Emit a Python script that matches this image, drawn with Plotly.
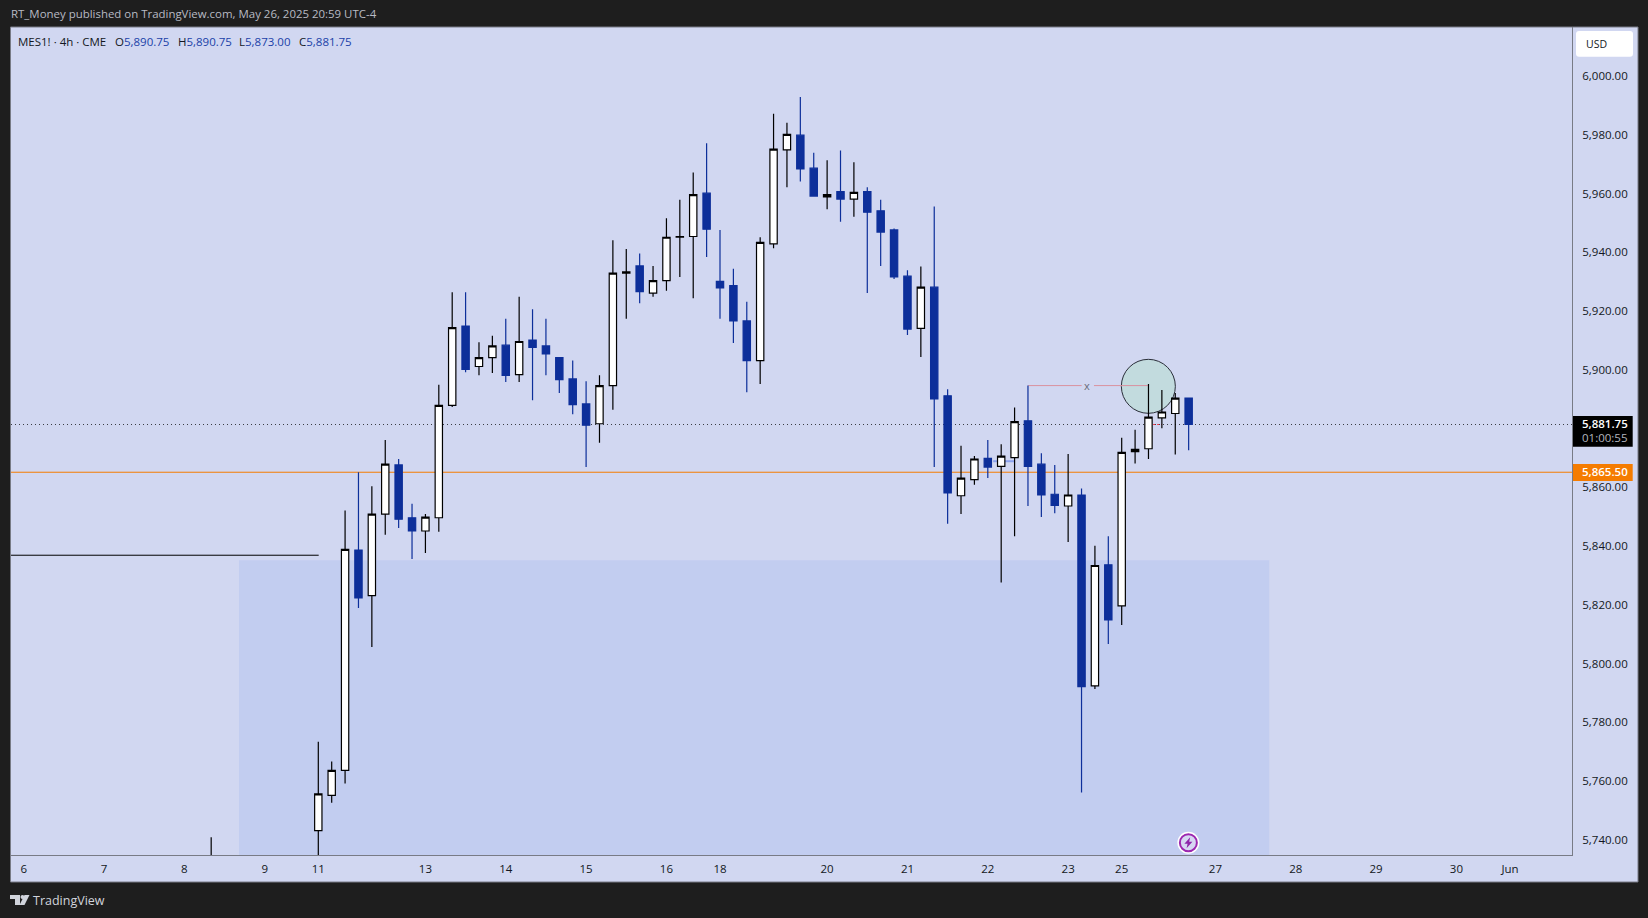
import plotly.graph_objects as go

# ---- data ----
bars = [-8] + list(range(0, 66))
opens = [5730, 5743.5, 5755.5, 5764, 5839, 5823.5, 5851.25, 5868, 5850, 5845.5, 5850, 5888.25, 5915.25, 5901.5, 5904.5, 5908.75, 5898.75, 5910.5, 5908.5, 5904.5, 5897.25, 5888.75, 5882, 5895, 5933.25, 5935.75, 5926.5, 5930.75, 5945.5, 5945.75, 5960.5, 5930.5, 5929, 5917, 5903.5, 5943.25, 5975.25, 5980.25, 5969, 5959.25, 5961, 5958.5, 5961, 5954.5, 5948, 5932.25, 5914.5, 5928.5, 5891.5, 5857.5, 5863, 5870.25, 5867.5, 5870.5, 5883, 5868.25, 5858, 5854, 5857.75, 5792.75, 5834, 5820, 5872.5, 5873.5, 5884, 5885.5, 5890.75]
highs = [5741.25, 5773.75, 5767, 5852.5, 5865.5, 5860.75, 5876.5, 5870, 5854.75, 5851.25, 5895.25, 5926.75, 5926.75, 5909.75, 5912, 5917.75, 5925.25, 5921, 5917.75, 5904.5, 5903.5, 5896.5, 5898.5, 5944.5, 5941.5, 5940, 5935.75, 5952, 5958.25, 5967.5, 5977.5, 5948, 5934.75, 5923.5, 5945.5, 5987.5, 5984.5, 5993.25, 5974.25, 5971.75, 5975, 5971, 5962.5, 5958.25, 5948.5, 5934.25, 5935.5, 5956, 5893.75, 5874.5, 5871, 5876.5, 5875, 5887.5, 5895, 5872, 5868, 5871.75, 5860, 5840.5, 5843.75, 5877.25, 5880, 5895.5, 5893.5, 5892.5, 5890.75]
lows = [5725, 5733.5, 5753, 5759.5, 5819.25, 5806, 5844.25, 5846.5, 5836, 5838, 5845.25, 5887.75, 5899.5, 5898.5, 5899.25, 5896.25, 5896.25, 5890, 5898.5, 5892.5, 5885.25, 5867.25, 5875.5, 5886.75, 5917.75, 5923, 5925.25, 5927.25, 5932, 5924.75, 5938.75, 5917.75, 5909.5, 5892.75, 5895.5, 5941.75, 5962.5, 5964.5, 5959.25, 5955, 5950.75, 5952.5, 5926.5, 5935.75, 5931.25, 5912.25, 5904.75, 5867.25, 5848, 5851.25, 5861.25, 5863.5, 5828, 5843.75, 5854, 5850.25, 5851.5, 5841.75, 5756.5, 5791.75, 5807, 5813.5, 5868.5, 5870, 5880.5, 5871.5, 5873]
closes = [5732, 5756, 5764, 5839.25, 5822.75, 5851.25, 5868.25, 5849.5, 5845.5, 5850.25, 5888.25, 5914.75, 5900.5, 5904.5, 5908.5, 5898.5, 5910, 5908, 5905.75, 5897, 5888.5, 5881.5, 5895, 5933.25, 5933.75, 5927, 5930.75, 5945.5, 5945.75, 5960, 5948.25, 5928.25, 5917, 5903.5, 5943.75, 5975.5, 5980.5, 5968.75, 5959.5, 5960, 5958.5, 5960.75, 5954, 5947.25, 5932, 5914.25, 5928.5, 5890.5, 5858.5, 5863.5, 5870, 5867.25, 5871, 5882.75, 5867.5, 5857.75, 5854.25, 5857.75, 5792.5, 5833.75, 5815.25, 5872.25, 5873.25, 5884.25, 5886, 5890.75, 5881.75]

tick_bars = [-22, -16, -10, -4, 0, 8, 14, 20, 26, 30, 38, 44, 50, 56, 60, 67, 73, 79, 85, 89]
tick_days = ["6", "7", "8", "9", "11", "13", "14", "15", "16", "18", "20", "21", "22", "23", "25", "27", "28", "29", "30", "Jun"]
price_ticks = [5740, 5760, 5780, 5800, 5820, 5840, 5860, 5900, 5920, 5940, 5960, 5980, 6000]

last_price = 5881.75
level_price = 5865.50
old_level = 5837.25
zone_top = 5835.5
zone_bars = (-5.92, 71.02)
target_price = 5895
target_bars = (53.02, 57.01, 57.93, 61.96)
circle_bar, circle_price = 61.99, 5894.75
link_price, link_bars = 5869.25, (50.4, 52)
event_bar, event_price = 64.98, 5739.4

# ---- style ----
BG = "#d1d7f1"
ZONE = "#c2cdf0"
DARK = "#1e1e1e"
NAVY = "#0d2f9a"
FRAME = "#787b86"
INK = "#131722"
FONT = "Open Sans"
W, H = 1648, 918
L, R, T, B = 11, 1572, 27, 855


def px(x):
    return (x - L) / (R - L)


def py(y):
    return (B - y) / (B - T)


def rounded(x0, y0, x1, y1, r):
    a, b, c, d = px(x0), px(x1), py(y0), py(y1)
    rx, ry = r / (R - L), r / (B - T)
    return (f"M{a+rx},{c} L{b-rx},{c} Q{b},{c} {b},{c-ry} L{b},{d+ry} Q{b},{d} {b-rx},{d} "
            f"L{a+rx},{d} Q{a},{d} {a},{d+ry} L{a},{c-ry} Q{a},{c} {a+rx},{c} Z")


def poly(points):
    return "M" + " L".join(f"{px(x)},{py(y)}" for x, y in points) + " Z"


bar_px = 13.39
xrange_ = [(L - 318.3) / bar_px, (R - 318.3) / bar_px]
yrange_ = [5735.2, 6017.07]
px_per_point = (B - T) / (yrange_[1] - yrange_[0])
rx_circle = 27 / bar_px
ry_circle = 27 / px_per_point

ev_x = 318.3 + bar_px * event_bar
ev_y = B - (event_price - yrange_[0]) * px_per_point

shapes = [
    dict(type="rect", xref="paper", yref="paper", x0=px(10.5), x1=px(1638), y0=py(27), y1=py(882),
         fillcolor=BG, line=dict(color=FRAME, width=1), layer="below"),
    dict(type="rect", xref="x", yref="y", x0=zone_bars[0], x1=zone_bars[1], y0=yrange_[0], y1=zone_top,
         fillcolor=ZONE, line=dict(width=0), layer="below"),
    dict(type="line", xref="paper", yref="y", x0=0, x1=1, y0=level_price, y1=level_price,
         line=dict(color="#f57c00", width=1), layer="below"),
    dict(type="line", xref="paper", yref="y", x0=0, x1=1, y0=last_price, y1=last_price,
         line=dict(color="#3a3c44", width=1, dash="1px,3px"), layer="below"),
    dict(type="line", xref="paper", yref="y", x0=0, x1=px(318.7), y0=old_level, y1=old_level,
         line=dict(color="#000000", width=1), layer="below"),
    dict(type="circle", xref="x", yref="y", x0=circle_bar - rx_circle, x1=circle_bar + rx_circle,
         y0=circle_price - ry_circle, y1=circle_price + ry_circle,
         fillcolor="#c2dbde", line=dict(color="#2a2e39", width=1), layer="below"),
    dict(type="line", xref="x", yref="y", x0=target_bars[0], x1=target_bars[1], y0=target_price, y1=target_price,
         line=dict(color="#d9929f", width=1), layer="below"),
    dict(type="line", xref="x", yref="y", x0=target_bars[2], x1=target_bars[3], y0=target_price, y1=target_price,
         line=dict(color="#d9929f", width=1), layer="below"),
    dict(type="line", xref="x", yref="y", x0=link_bars[0], x1=link_bars[1], y0=link_price, y1=link_price,
         line=dict(color="#8ba2ee", width=2), layer="below"),
    dict(type="line", xref="x", yref="y", x0=62.35, x1=63, y0=last_price, y1=last_price,
         line=dict(color="#f23645", width=1, dash="2px,2px"), layer="below"),
    # price tags and currency box
    dict(type="rect", xref="paper", yref="paper", x0=px(1573), x1=px(1632.7), y0=py(416), y1=py(446.7),
         fillcolor="#000000", line=dict(width=0), layer="above"),
    dict(type="rect", xref="paper", yref="paper", x0=px(1573), x1=px(1632.7), y0=py(464), y1=py(481),
         fillcolor="#f57c00", line=dict(width=0), layer="above"),
    dict(type="path", xref="paper", yref="paper", path=rounded(1576, 31, 1633, 56.7, 3),
         fillcolor="#ffffff", line=dict(width=0), layer="above"),
    # logo
    dict(type="path", xref="paper", yref="paper",
         path=poly([(10, 895), (20, 895), (20, 905), (15, 905), (15, 899), (10, 899)]),
         fillcolor="#d1d4dc", line=dict(width=0), layer="above"),
    dict(type="path", xref="paper", yref="paper",
         path=poly([(24.5, 895), (29.5, 895), (24.5, 905), (19.5, 905)]),
         fillcolor="#d1d4dc", line=dict(width=0), layer="above"),
    dict(type="circle", xref="paper", yref="paper", x0=px(20.5), x1=px(24.5), y0=py(899), y1=py(895),
         fillcolor="#d1d4dc", line=dict(width=0), layer="above"),
    # lightning bolt of the event badge
    dict(type="path", xref="paper", yref="paper",
         path=poly([(ev_x + 1.8, ev_y - 5.5), (ev_x - 4, ev_y + 1), (ev_x - 0.8, ev_y + 1),
                    (ev_x - 1.8, ev_y + 5.5), (ev_x + 4, ev_y - 1), (ev_x + 0.8, ev_y - 1)]),
         fillcolor="#8e24aa", line=dict(width=0), layer="above"),
]

fig = go.Figure()
fig.add_trace(go.Candlestick(
    x=bars, open=opens, high=highs, low=lows, close=closes,
    increasing=dict(line=dict(color="#000000", width=1.2), fillcolor="#ffffff"),
    decreasing=dict(line=dict(color=NAVY, width=1.2), fillcolor=NAVY),
    whiskerwidth=0, showlegend=False, hoverinfo="skip",
))
fig.add_trace(go.Scatter(
    x=[event_bar], y=[event_price], mode="markers", showlegend=False, hoverinfo="skip",
    marker=dict(size=22, color="#ffffff", line=dict(width=0)),
))
fig.add_trace(go.Scatter(
    x=[event_bar], y=[event_price], mode="markers", showlegend=False, hoverinfo="skip",
    marker=dict(size=17, color="#d6d6f2", line=dict(color="#9c27b0", width=2)),
))


def text(x, y, s, color=INK, size=12, anchor="left", weight=None):
    return dict(xref="paper", yref="paper", x=px(x - 1.5 if anchor == "left" else x), y=py(y), text=s,
                showarrow=False, xanchor=anchor, yanchor="middle", align=anchor,
                font=dict(family=FONT, size=size, color=color, weight=weight))


legend_blue = "#1a3fa8"
annotations = [
    text(10, 14, "RT_Money published on TradingView.com, May 26, 2025 20:59 UTC-4", "#b8bbc4", 11.45),
    text(17, 41.5, "MES1! · 4h · CME", INK, 11.5),
    text(114, 41.5, f'O<span style="color:{legend_blue}">5,890.75</span>', INK, 11.5),
    text(177, 41.5, f'H<span style="color:{legend_blue}">5,890.75</span>', INK, 11.5),
    text(238, 41.5, f'L<span style="color:{legend_blue}">5,873.00</span>', INK, 11.5),
    text(298, 41.5, f'C<span style="color:{legend_blue}">5,881.75</span>', INK, 11.5),
    text(1585, 44.5, "USD", INK, 10.5),
    text(1581, 423.3, f"{last_price:,.2f}", "#ffffff", 11.5, weight=600),
    text(1581, 437.7, "01:00:55", "#b2b5be", 11.5),
    text(1581, 472, f"{level_price:,.2f}", "#ffffff", 11.5, weight=600),
    text(1086.7, 385, "x", "#6a6d78", 11, "center"),
    text(32.5, 900, "TradingView", "#d1d4dc", 12.5),
]

fig.update_layout(
    width=W, height=H, autosize=False,
    margin=dict(l=L, r=W - R, t=T, b=H - B, pad=0),
    paper_bgcolor=DARK, plot_bgcolor="rgba(0,0,0,0)",
    font=dict(family=FONT, size=11.5, color=INK),
    showlegend=False, hovermode=False, boxgap=0.22,
    shapes=shapes, annotations=annotations,
    xaxis=dict(range=xrange_, tickmode="array", tickvals=tick_bars, ticktext=tick_days,
               showgrid=False, zeroline=False, showline=True, linecolor=FRAME, linewidth=1,
               ticks="", rangeslider=dict(visible=False), tickangle=0,
               tickfont=dict(family=FONT, size=11.5, color=INK), ticklabelstandoff=3),
    yaxis=dict(range=yrange_, side="right", tickmode="array", tickvals=price_ticks,
               tickformat=",.2f", showgrid=False, zeroline=False, showline=True,
               linecolor=FRAME, linewidth=1, ticks="", ticklabelstandoff=7, ticklabelshift=-1,
               tickfont=dict(family=FONT, size=11.5, color=INK)),
)

fig.write_html("out.html", config={"displayModeBar": False},
               post_script="document.body.style.margin='0';document.body.style.overflow='hidden';")
